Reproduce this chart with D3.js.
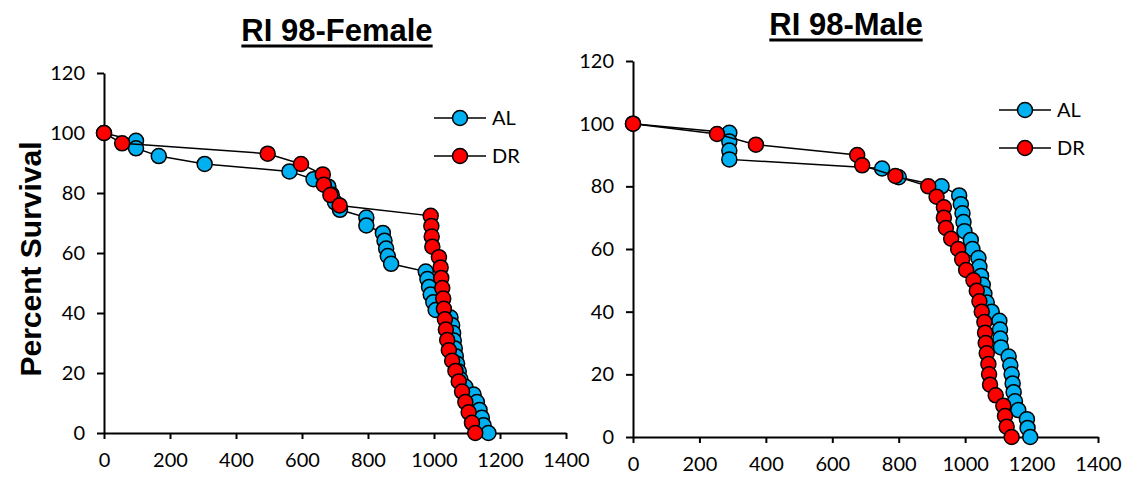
<!DOCTYPE html>
<html lang="en">
<head>
<meta charset="UTF-8">
<title>RI 98 survival</title>
<script src="https://d3js.org/d3.v7.min.js"></script>
<style>
  body { margin: 0; background: #fff; }
  .tick text { font-family: Lato, "Open Sans", sans-serif; font-size: 20px; fill: #000; }
</style>
</head>
<body>
<div id="chart"></div>
<script>
// data: [days, percent survival]
const femaleAL = [[0,100],[97,97.4],[97,94.9],[166,92.3],[305,89.7],[562,87.2],[635,84.6],
  [680,82.1],[690,79.5],[700,76.9],[715,74.4],[795,71.8],[795,69.2],[845,66.7],[850,64.1],
  [855,61.5],[860,59],[870,56.4],[975,53.8],[980,51.3],[985,48.7],[990,46.2],[998,43.6],
  [1005,41],[1050,38.5],[1055,35.9],[1058,33.3],[1060,30.8],[1063,28.2],[1066,25.6],
  [1070,23.1],[1075,20.5],[1080,17.9],[1095,15.4],[1120,12.8],[1130,10.3],[1138,7.7],
  [1145,5.1],[1150,2.6],[1165,0]];
const femaleDR = [[0,100],[55,96.55],[496,93.1],[597,89.66],[663,86.2],[666,82.76],[686,79.3],
  [714,75.86],[990,72.4],[992,69],[993,65.5],[995,62.1],[1015,58.6],[1020,55.2],[1022,51.7],
  [1025,48.3],[1028,44.8],[1030,41.4],[1033,37.9],[1036,34.5],[1040,31],[1045,27.6],
  [1055,24.1],[1065,20.7],[1075,17.2],[1085,13.8],[1095,10.3],[1105,6.9],[1115,3.4],[1125,0]];
const maleAL = [[0,100],[290,97.1],[290,94.3],[290,91.4],[290,88.6],[750,85.7],[800,82.9],
  [929,80],[982,77.1],[987,74.3],[992,71.4],[995,68.6],[998,65.7],[1017,62.9],[1022,60],
  [1040,57.1],[1043,54.3],[1048,51.4],[1053,48.6],[1058,45.7],[1065,42.9],[1080,40],
  [1103,37.1],[1105,34.3],[1106,31.4],[1108,28.6],[1131,25.7],[1136,22.9],[1140,20],
  [1143,17.1],[1146,14.3],[1150,11.4],[1160,8.6],[1186,5.7],[1188,2.9],[1196,0]];
const maleDR = [[0,100],[253,96.7],[370,93.3],[675,90],[690,86.7],[790,83.3],[889,80],
  [914,76.7],[936,73.3],[936,70],[942,66.7],[958,63.3],[979,60],[991,56.7],[1003,53.3],
  [1025,50],[1035,46.7],[1043,43.3],[1050,40],[1058,36.7],[1060,33.3],[1062,30],[1065,26.7],
  [1070,23.3],[1072,20],[1075,16.7],[1092,13.3],[1115,10],[1120,6.7],[1125,3.3],[1140,0]];

const xTicks = [0,200,400,600,800,1000,1200,1400];
const yTicks = [0,20,40,60,80,100,120];
const seriesNames = ["AL","DR"];
const colors = {AL: "#00b0f0", DR: "#ff0000"};

const svg = d3.select("#chart").append("svg")
  .attr("width", 1125).attr("height", 482);

// y axis title shared on the left
svg.append("text")
  .attr("transform", "translate(41,259) rotate(-90)")
  .attr("text-anchor", "middle")
  .style("font-family", "Liberation Sans, Arial, sans-serif")
  .style("font-weight", "bold").style("font-size", "30px")
  .text("Percent Survival");

function panel(opt) {
  const x = d3.scaleLinear().domain([0,1400]).range([opt.left, opt.right]);
  const y = d3.scaleLinear().domain([0,120]).range([opt.bottom, opt.top]);
  const g = svg.append("g");

  g.append("g").attr("transform", `translate(0,${opt.bottom})`)
    .call(d3.axisBottom(x).tickValues(xTicks).tickFormat(d3.format("d"))
      .tickSize(6).tickPadding(14).tickSizeOuter(0))
    .call(a => a.select(".domain").attr("stroke-width", 2));
  g.append("g").attr("transform", `translate(${opt.left},0)`)
    .call(d3.axisLeft(y).tickValues(yTicks).tickSize(7).tickPadding(12).tickSizeOuter(0))
    .call(a => a.select(".domain").attr("stroke-width", 2));
  g.selectAll(".tick line").attr("stroke-width", 2);

  const t = g.append("text")
    .attr("x", opt.titleX).attr("y", opt.titleY)
    .attr("text-anchor", "middle")
    .style("font-family", "Liberation Sans, Arial, sans-serif")
    .style("font-weight", "bold").style("font-size", "31px")
    .text(opt.title);
  const w = t.node().getComputedTextLength();
  g.append("line")
    .attr("x1", opt.titleX - w/2).attr("x2", opt.titleX + w/2)
    .attr("y1", opt.titleY + 5).attr("y2", opt.titleY + 5)
    .attr("stroke", "#000").attr("stroke-width", 3);

  const line = d3.line().x(d => x(d[0])).y(d => y(d[1]));
  [[opt.al, "AL"], [opt.dr, "DR"]].forEach(([data, name]) => {
    g.append("path").datum(data)
      .attr("d", line).attr("fill", "none")
      .attr("stroke", "#000").attr("stroke-width", 1.5);
    g.selectAll(null).data(data).join("circle")
      .attr("cx", d => x(d[0])).attr("cy", d => y(d[1]))
      .attr("r", 7.5).attr("fill", colors[name])
      .attr("stroke", "#000").attr("stroke-width", 1.5);
  });

  // legend
  seriesNames.forEach((name, i) => {
    const ly = opt.legY + i * 38;
    g.append("line").attr("x1", opt.legX).attr("x2", opt.legX + 52)
      .attr("y1", ly).attr("y2", ly).attr("stroke", "#000").attr("stroke-width", 1.5);
    g.append("circle").attr("cx", opt.legX + 26).attr("cy", ly).attr("r", 7.5)
      .attr("fill", colors[name]).attr("stroke", "#000").attr("stroke-width", 1.5);
    g.append("text").attr("x", opt.legX + 58).attr("y", ly + 7)
      .style("font-family", "Lato, 'Open Sans', sans-serif").style("font-size", "20px")
      .text(name);
  });
}

panel({left: 104, right: 566, top: 73, bottom: 433, title: "RI 98-Female",
  titleX: 337, titleY: 41, al: femaleAL, dr: femaleDR, legX: 434, legY: 118});
panel({left: 633, right: 1098, top: 61, bottom: 437, title: "RI 98-Male",
  titleX: 846, titleY: 35, al: maleAL, dr: maleDR, legX: 999, legY: 110});
</script>
</body>
</html>
